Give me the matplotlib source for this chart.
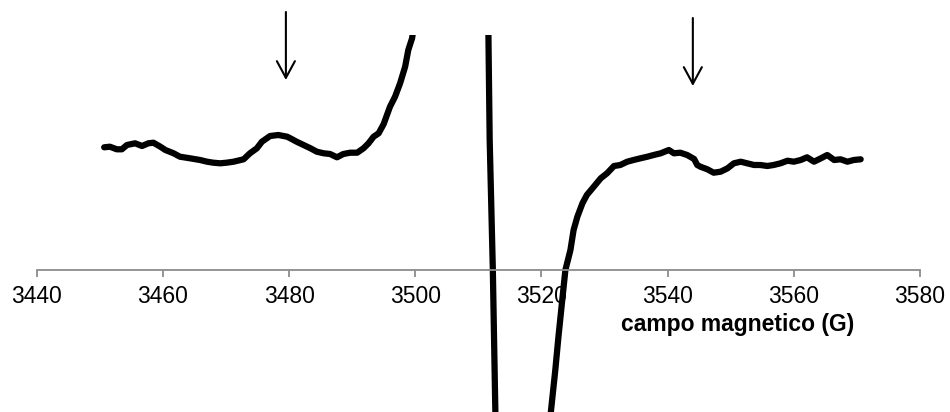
import numpy as np
import matplotlib
matplotlib.use('Agg')
import matplotlib.pyplot as plt

plt.rcParams['font.family'] = ['Liberation Sans', 'DejaVu Sans']

# --- EPR spectrum (arbitrary intensity units) ---
field = [3450.7, 3451.6, 3452.7, 3453.5, 3454.3, 3455.6, 3456.7, 3457.7, 3458.5, 3459.6,
         3460.4, 3461.7, 3462.7, 3464.3, 3465.9, 3467.0, 3468.0, 3469.1, 3470.1, 3471.2,
         3472.8, 3473.8, 3474.9, 3475.7, 3477.0, 3478.3, 3479.7, 3480.2, 3481.2, 3482.3,
         3483.4, 3484.4, 3485.5, 3486.5, 3487.6, 3488.6, 3489.7, 3490.8, 3491.8, 3492.6,
         3493.4, 3494.2, 3495.0, 3496.0, 3496.8, 3497.6, 3498.4, 3498.9, 3499.5,
         3500.5, 3502.0, 3506.0, 3510.0, 3511.2,
         3511.6, 3511.8, 3512.3, 3512.7,
         3513.2, 3516.0, 3519.0, 3520.8,
         3521.5, 3522.2, 3522.7, 3523.3, 3523.8, 3524.6, 3525.1, 3525.7, 3526.5, 3527.2,
         3528.3, 3529.4, 3530.4, 3531.5, 3532.5, 3533.6, 3534.6, 3535.7, 3536.8, 3537.8,
         3538.9, 3540.2, 3541.0, 3542.0, 3543.1, 3544.2, 3544.7, 3545.2, 3546.3, 3547.3,
         3548.4, 3549.5, 3550.5, 3551.6, 3552.6, 3553.7, 3554.7, 3555.8, 3556.8, 3557.9,
         3559.0, 3560.0, 3561.1, 3562.1, 3563.2, 3564.3, 3565.3, 3566.4, 3567.4, 3568.5,
         3569.5, 3570.6]
signal = [1.227, 1.233, 1.207, 1.207, 1.250, 1.267, 1.240, 1.267, 1.273, 1.233,
          1.200, 1.167, 1.133, 1.117, 1.100, 1.083, 1.073, 1.067, 1.073, 1.083,
          1.107, 1.167, 1.217, 1.283, 1.340, 1.350, 1.333, 1.317, 1.283, 1.250,
          1.217, 1.183, 1.167, 1.160, 1.127, 1.160, 1.173, 1.173, 1.217, 1.267,
          1.333, 1.367, 1.460, 1.633, 1.733, 1.867, 2.033, 2.200, 2.317,
          2.75, 4.0, 6.0, 5.0, 3.70,
          2.35, 1.30, 0.00, -1.42,
          -3.0, -6.0, -4.5, -2.2,
          -1.417, -1.000, -0.667, -0.300, 0.000, 0.200, 0.400, 0.533, 0.667, 0.750,
          0.833, 0.917, 0.967, 1.040, 1.050, 1.083, 1.100, 1.117, 1.133, 1.150,
          1.167, 1.200, 1.167, 1.173, 1.150, 1.110, 1.050, 1.033, 1.007, 0.973,
          0.983, 1.017, 1.067, 1.083, 1.067, 1.050, 1.050, 1.040, 1.050, 1.067,
          1.093, 1.083, 1.100, 1.127, 1.083, 1.117, 1.150, 1.100, 1.107, 1.083,
          1.100, 1.107]

x_ticks = [3440, 3460, 3480, 3500, 3520, 3540, 3560, 3580]
arrow_fields = [3479.5, 3544.0]
arrow_tops = [2.58, 2.52]
arrow_tips = [1.90, 1.84]

fig = plt.figure(figsize=(9.5, 4.12), dpi=100)
ax = fig.add_axes([0.0386, 0.0, 0.9298, 377 / 412])

ax.plot(field, signal, color='black', linewidth=4.5, solid_capstyle='round',
        solid_joinstyle='round')

ax.set_xlim(3440, 3580)
ax.set_ylim(-1.42, 2.35)

# axis crosses at zero, only the horizontal axis is shown
for side in ['left', 'right', 'top']:
    ax.spines[side].set_visible(False)
ax.spines['bottom'].set_position(('data', 0))
ax.spines['bottom'].set_color('#8c8c8c')
ax.spines['bottom'].set_linewidth(1.3)
ax.set_yticks([])
ax.set_xticks(x_ticks)
ax.tick_params(axis='x', direction='out', length=5, width=1.3, color='#8c8c8c',
               labelsize=16.5, pad=6)

ax.set_xlabel('campo magnetico (G)', fontsize=16.5, fontweight='bold')
ax.xaxis.set_label_coords(0.793, 0.231)
ax.xaxis.label.set_va('center')

for xf, top, tip in zip(arrow_fields, arrow_tops, arrow_tips):
    ax.annotate('', xy=(xf, tip), xytext=(xf, top), annotation_clip=False,
                arrowprops=dict(arrowstyle='->,head_length=1.2,head_width=0.65',
                                color='black', linewidth=1.5, shrinkA=0, shrinkB=0))

fig.savefig('out.png', dpi=100)
